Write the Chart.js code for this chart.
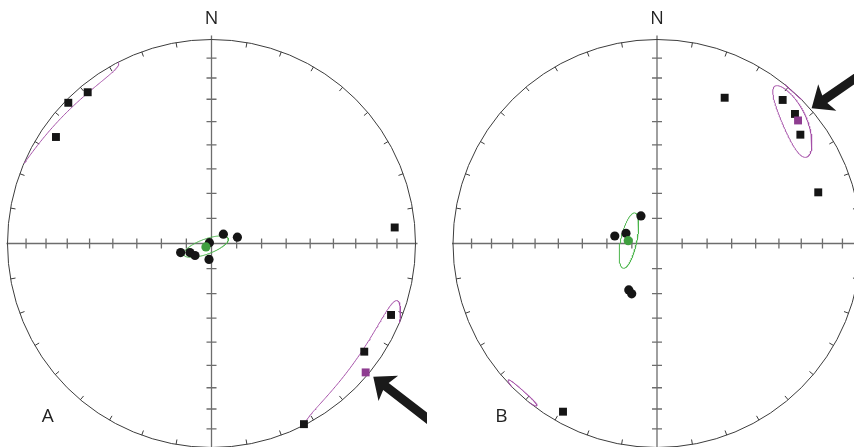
<!DOCTYPE html>
<html>
<head>
<meta charset="utf-8">
<script src="https://cdn.jsdelivr.net/npm/chart.js@4.4.1/dist/chart.umd.min.js"></script>
<style>
  html, body { margin: 0; padding: 0; background: #fff; overflow: hidden; }
  #wrap { position: relative; width: 854px; height: 447px; }
  canvas { position: absolute; top: 0; }
</style>
</head>
<body>
<div id="wrap">
  <canvas id="netA" width="427" height="447" style="left:0"></canvas>
  <canvas id="netB" width="427" height="447" style="left:427px"></canvas>
</div>
<script>
// ---- data: directions as trend / plunge (degrees), lower hemisphere ----
// net A
const aSquareTrend = [320.7, 314.5, 304.4, 85.0, 111.7, 125.3, 152.9];
const aSquarePlunge = [4.7, 1.8, 8.4, 10.8, 5.9, 9.1, 0.6];
const aDotTrend = [51.8, 76.3, 253.7, 247.3, 234.0, 291.8, 188.9];
const aDotPlunge = [84.0, 79.4, 77.2, 80.7, 81.9, 89.1, 83.6];
const aMeanSquare = [129.9, 1.7];
const aMeanDot = [238.3, 87.4];
// confidence cones: [trend, plunge, semi-angle 1, semi-angle 2, rotation]
const aConeMagenta = [130, 2.65, 23, 7.1, -8];
const aConeGreen = [240, 87.5, 3, 9.4, 10];

// net B
const bSquareTrend = [24.9, 41.2, 46.8, 52.8, 72.4, 209.2];
const bSquarePlunge = [22.3, 7.2, 8.0, 12.8, 18.2, 6.2];
const bDotTrend = [329.8, 280.1, 288.2, 211.3, 206.7];
const bDotPlunge = [77.3, 72.9, 77.0, 68.3, 67.5];
const bMeanSquare = [48.9, 9.1];
const bMeanDot = [275.6, 78.5];
const bConeMagenta = [48.2, 10.5, 13.1, 5.65, 33];
const bConeMagentaSW = [222, 1.2, 5.5, 1.5, 0];
const bConeGreen = [276, 78.7, 11.2, 3.2, 6];

const RAD = Math.PI / 180;

function dirVector(trend, plunge) {
    return [
        Math.cos(plunge * RAD) * Math.sin(trend * RAD),
        Math.cos(plunge * RAD) * Math.cos(trend * RAD),
        Math.sin(plunge * RAD)
    ];
}

// equal-area (Schmidt) lower hemisphere, primitive radius = 1
function project(v) {
    let [e, n, d] = v;
    if (d < 0) { e = -e; n = -n; d = -d; }
    const k = 1 / Math.sqrt(1 + d);
    return { x: e * k, y: n * k };
}

function toPoints(trends, plunges) {
    return trends.map((t, i) => project(dirVector(t, plunges[i])));
}

// outline of an elliptical cone around a mean direction, split where it crosses the horizontal
function coneOutline(cone) {
    const [trend, plunge, a1, a2, rot] = cone;
    const m = dirVector(trend, plunge);
    const t = trend * RAD, p = plunge * RAD;
    const e1 = [Math.cos(t), -Math.sin(t), 0];
    const e2 = [-Math.sin(p) * Math.sin(t), -Math.sin(p) * Math.cos(t), Math.cos(p)];
    const psi = rot * RAD;
    const pts = [];
    let prevDown = null;
    for (let i = 0; i <= 240; i++) {
        const s = (i / 240) * 2 * Math.PI;
        const u = a1 * Math.cos(s), w = a2 * Math.sin(s);
        const u2 = u * Math.cos(psi) - w * Math.sin(psi);
        const w2 = u * Math.sin(psi) + w * Math.cos(psi);
        const rho = Math.hypot(u2, w2) * RAD;
        const phi = Math.atan2(w2, u2);
        const v = [0, 1, 2].map(k => Math.cos(rho) * m[k] +
            Math.sin(rho) * (Math.cos(phi) * e1[k] + Math.sin(phi) * e2[k]));
        const down = v[2] >= 0;
        if (prevDown !== null && down !== prevDown) pts.push({ x: null, y: null });
        prevDown = down;
        pts.push(project(v));
    }
    return pts;
}

// frame: primitive, rim ticks, N-S / E-W axes with 10 degree plunge ticks, labels, arrows
const stereonetFrame = {
    id: "stereonetFrame",
    beforeDatasetsDraw(chart, args, opts) {
        const { ctx, scales: { x, y } } = chart;
        const cx = x.getPixelForValue(0);
        const cy = y.getPixelForValue(0);
        const R = x.getPixelForValue(1) - cx;
        ctx.save();

        ctx.strokeStyle = "#6d6d6d";
        ctx.lineWidth = 1.3;
        ctx.beginPath();
        ctx.moveTo(cx, cy - R - 4);
        ctx.lineTo(cx, cy + R + 4);
        ctx.moveTo(cx - R - 1, cy);
        ctx.lineTo(cx + R + 2, cy);
        for (let k = 1; k <= 8; k++) {
            const r = Math.SQRT2 * Math.sin((90 - 10 * k) / 2 * RAD) * R;
            ctx.moveTo(cx - 5, cy - r); ctx.lineTo(cx + 5, cy - r);
            ctx.moveTo(cx - 5, cy + r); ctx.lineTo(cx + 5, cy + r);
            ctx.moveTo(cx - r, cy - 5); ctx.lineTo(cx - r, cy + 5);
            ctx.moveTo(cx + r, cy - 5); ctx.lineTo(cx + r, cy + 5);
        }
        ctx.stroke();

        ctx.strokeStyle = "#3c3c3c";
        ctx.lineWidth = 1;
        ctx.beginPath();
        ctx.arc(cx, cy, R, 0, 2 * Math.PI);
        for (let az = 10; az < 360; az += 10) {
            if (az % 90 === 0) continue;
            const sx = Math.sin(az * RAD), sy = -Math.cos(az * RAD);
            ctx.moveTo(cx + sx * R, cy + sy * R);
            ctx.lineTo(cx + sx * (R - 5), cy + sy * (R - 5));
        }
        ctx.stroke();
        ctx.restore();
    },
    afterDatasetsDraw(chart, args, opts) {
        const { ctx, scales: { x, y } } = chart;
        ctx.save();
        ctx.fillStyle = "#222";
        ctx.font = "18px 'Open Sans', 'DejaVu Sans', sans-serif";
        ctx.textAlign = "center";
        ctx.textBaseline = "alphabetic";
        ctx.fillText("N", x.getPixelForValue(0), y.getPixelForValue(1) - 16);
        ctx.font = "19px 'Open Sans', 'DejaVu Sans', sans-serif";
        ctx.textAlign = "left";
        ctx.fillText(opts.letter, x.getPixelForValue(opts.letterAt[0]), y.getPixelForValue(opts.letterAt[1]));

        // black arrow pointing at the mean direction
        const [tx, ty] = [x.getPixelForValue(opts.arrowTip[0]), y.getPixelForValue(opts.arrowTip[1])];
        const [bx, by] = [x.getPixelForValue(opts.arrowTail[0]), y.getPixelForValue(opts.arrowTail[1])];
        const len = Math.hypot(tx - bx, ty - by);
        const headLen = 19, headHalf = 16, shaftHalf = 4.5;
        ctx.translate(tx, ty);
        ctx.rotate(Math.atan2(ty - by, tx - bx));
        ctx.beginPath();
        ctx.moveTo(0, 0);
        ctx.lineTo(-headLen, -headHalf);
        ctx.lineTo(-headLen + 3, -shaftHalf);
        ctx.lineTo(-len, -shaftHalf);
        ctx.lineTo(-len, shaftHalf);
        ctx.lineTo(-headLen + 3, shaftHalf);
        ctx.lineTo(-headLen, headHalf);
        ctx.closePath();
        ctx.fillStyle = "#1a1a1a";
        ctx.fill();
        ctx.restore();
    }
};

function pointSet(data, style, radius, color) {
    return {
        data: data,
        pointStyle: style,
        pointRadius: radius,
        backgroundColor: color,
        borderColor: color,
        borderWidth: 0,
        showLine: false
    };
}

function lineSet(cone, color) {
    return {
        data: coneOutline(cone),
        showLine: true,
        spanGaps: false,
        pointRadius: 0,
        borderColor: color,
        borderWidth: 1,
        fill: false,
        tension: 0
    };
}

function makeNet(canvasId, layout, datasets, frameOpts) {
    const canvas = document.getElementById(canvasId);
    const R = layout.radius;
    return new Chart(canvas.getContext("2d"), {
        type: "scatter",
        data: { datasets: datasets },
        options: {
            responsive: false,
            maintainAspectRatio: false,
            devicePixelRatio: 1,
            animation: false,
            events: [],
            layout: { padding: 0, autoPadding: false },
            scales: {
                x: { type: "linear", display: false, min: -layout.cx / R, max: (canvas.width - layout.cx) / R },
                y: { type: "linear", display: false, min: -(canvas.height - layout.cy) / R, max: layout.cy / R }
            },
            plugins: {
                legend: { display: false },
                tooltip: { enabled: false },
                stereonetFrame: frameOpts
            }
        },
        plugins: [stereonetFrame]
    });
}

const magenta = "#8e3c90";
const magentaLine = "#a550a8";
const green = "#3f9f3f";
const greenLine = "#4cb54c";
const black = "#151515";

makeNet("netA", { cx: 211.5, cy: 243.5, radius: 204 }, [
    pointSet([project(dirVector(...aMeanDot))], "circle", 4.6, green),
    pointSet([project(dirVector(...aMeanSquare))], "rect", 5.6, magenta),
    pointSet(toPoints(aSquareTrend, aSquarePlunge), "rect", 5.6, black),
    pointSet(toPoints(aDotTrend, aDotPlunge), "circle", 4.6, black),
    lineSet(aConeMagenta, magentaLine),
    lineSet(aConeGreen, greenLine)
], { letter: "A", letterAt: [-0.832, -0.873], arrowTip: [0.793, -0.653], arrowTail: [1.074, -0.870] });

makeNet("netB", { cx: 230, cy: 243.5, radius: 204 }, [
    pointSet([project(dirVector(...bMeanDot))], "circle", 4.6, green),
    pointSet([project(dirVector(...bMeanSquare))], "rect", 5.6, magenta),
    pointSet(toPoints(bSquareTrend, bSquarePlunge), "rect", 5.6, black),
    pointSet(toPoints(bDotTrend, bDotPlunge), "circle", 4.6, black),
    lineSet(bConeMagenta, magentaLine),
    lineSet(bConeMagentaSW, magentaLine),
    lineSet(bConeGreen, greenLine)
], { letter: "B", letterAt: [-0.793, -0.873], arrowTip: [0.758, 0.663], arrowTail: [1.049, 0.863] });
</script>
</body>
</html>
